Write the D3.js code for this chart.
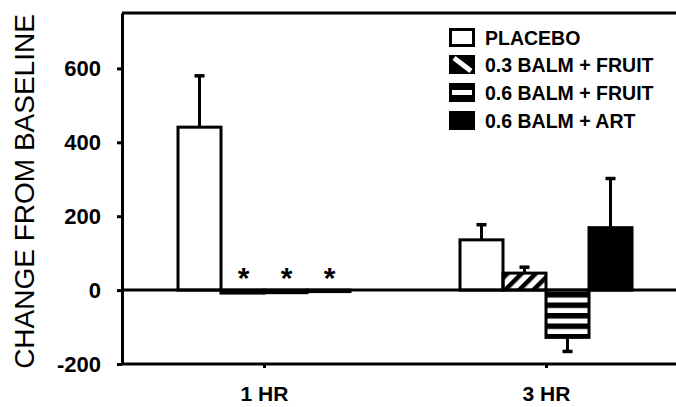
<!DOCTYPE html>
<html><head><meta charset="utf-8">
<script src="https://cdn.jsdelivr.net/npm/d3@7"></script>
<style>html,body{margin:0;padding:0;background:#fff;}svg{display:block;}</style>
</head><body>
<script>
const groups = ["1 HR", "3 HR"];
const series = ["PLACEBO", "0.3 BALM + FRUIT", "0.6 BALM + FRUIT", "0.6 BALM + ART"];
const means1h = [441, -8, -7, -4];
const errs1h  = [139, 0, 0, 0];
const means3h = [136, 46, -128, 169];
const errs3h  = [41, 16, 38, 133];
const sig1h   = [false, true, true, true];
const yTicks  = [-200, 0, 200, 400, 600];

(function(){
const W = 676, H = 407;
const FONT = "Liberation Sans, Arial, sans-serif";
const svg = d3.select("body").append("svg").attr("width", W).attr("height", H);
const defs = svg.append("defs");
defs.append("pattern").attr("id","diag").attr("patternUnits","userSpaceOnUse")
  .attr("width",10).attr("height",10).attr("patternTransform","rotate(45)")
  .append("rect").attr("x",0).attr("y",0).attr("width",4.5).attr("height",10).attr("fill","#000");
const hp = defs.append("pattern").attr("id","horiz").attr("patternUnits","userSpaceOnUse")
  .attr("width",10).attr("height",10.5).attr("y",292);
hp.append("rect").attr("width",10).attr("height",10.5).attr("fill","#fff");
hp.append("rect").attr("y",0).attr("width",10).attr("height",5.5).attr("fill","#000");

const mLeft = 122, mRight = 676, mTop = 13, mBottom = 364;
const y = d3.scaleLinear().domain([-200, 750]).range([mBottom, mTop]);
const x0 = d3.scalePoint().domain(groups).range([264, 546]);
const x1 = d3.scaleBand().domain(series).range([-86, 86]).padding(0);

const fills = ["#fff", "url(#diag)", "url(#horiz)", "#000"];

const data = [];
groups.forEach((g, gi) => {
  const m = gi === 0 ? means1h : means3h;
  const e = gi === 0 ? errs1h : errs3h;
  series.forEach((s, si) => data.push({g, s, si, v: m[si], e: e[si], sig: gi === 0 && sig1h[si]}));
});

svg.append("line").attr("x1", mLeft).attr("x2", mRight).attr("y1", mTop).attr("y2", mTop)
  .attr("stroke","#000").attr("stroke-width",3);

const eb = svg.append("g");
data.filter(d => d.e > 0).forEach(d => {
  const cx = x0(d.g) + x1(d.s) + x1.bandwidth()/2;
  const end = d.v >= 0 ? d.v + d.e : d.v - d.e;
  eb.append("line").attr("x1",cx).attr("x2",cx).attr("y1",y(d.v)).attr("y2",y(end))
    .attr("stroke","#000").attr("stroke-width",3);
  eb.append("line").attr("x1",cx-5).attr("x2",cx+5).attr("y1",y(end)).attr("y2",y(end))
    .attr("stroke","#000").attr("stroke-width",3.5);
});

svg.append("g").selectAll("rect").data(data).join("rect")
  .attr("x", d => x0(d.g) + x1(d.s))
  .attr("width", x1.bandwidth())
  .attr("y", d => y(Math.max(0, d.v)))
  .attr("height", d => Math.abs(y(d.v) - y(0)))
  .attr("fill", d => fills[d.si])
  .attr("stroke", "#000").attr("stroke-width", 3);

svg.append("line").attr("x1", mLeft).attr("x2", mRight).attr("y1", y(0)).attr("y2", y(0))
  .attr("stroke","#000").attr("stroke-width",3);

svg.append("g").selectAll("text").data(data.filter(d => d.sig)).join("text")
  .attr("x", d => x0(d.g) + x1(d.s) + x1.bandwidth()/2 + 1)
  .attr("y", y(0) - 2)
  .attr("text-anchor","middle")
  .attr("font-family",FONT).attr("font-weight","bold")
  .attr("font-size", 30).text("*");

const ya = svg.append("g").attr("transform", `translate(${mLeft},0)`)
  .call(d3.axisLeft(y).tickValues(yTicks).tickFormat(d => String(d))
    .tickSize(5).tickSizeOuter(0).tickPadding(16));
ya.select(".domain").attr("stroke-width",3);
ya.selectAll(".tick line").attr("stroke-width",3);
ya.selectAll("text").attr("font-family",FONT)
  .attr("font-weight","bold").attr("font-size",22).attr("fill","#000");

const xa = svg.append("g").attr("transform", `translate(0,${mBottom})`)
  .call(d3.axisBottom(x0).tickSize(4).tickSizeOuter(0).tickPadding(18));
xa.select(".domain").attr("d", `M${mLeft},0H${mRight}`).attr("stroke-width",3);
xa.selectAll(".tick line").attr("stroke-width",3);
xa.selectAll("text").attr("font-family",FONT)
  .attr("font-weight","bold").attr("font-size",21).attr("fill","#000");

svg.append("text").attr("transform", `translate(34,${(mTop+370)/2}) rotate(-90)`)
  .attr("text-anchor","middle")
  .attr("font-family",FONT).attr("font-size",28)
  .text("CHANGE FROM BASELINE");

const lg = svg.append("g");
const lx = 449, lw = 26, lh = 19;
const ly = [28, 55, 83, 111];
series.forEach((s, i) => {
  const g = lg.append("g").attr("transform", `translate(${lx},${ly[i]})`);
  if (i === 0) {
    g.append("rect").attr("x",1.5).attr("y",1.5).attr("width",lw-3).attr("height",lh-3)
      .attr("fill","#fff").attr("stroke","#000").attr("stroke-width",3);
  } else if (i === 1) {
    g.append("rect").attr("width",lw).attr("height",lh).attr("fill","#000");
    g.append("line").attr("x1",5).attr("y1",3).attr("x2",lw-4).attr("y2",lh-3)
      .attr("stroke","#fff").attr("stroke-width",5);
  } else if (i === 2) {
    g.append("rect").attr("width",lw).attr("height",lh).attr("fill","#000");
    g.append("rect").attr("x",3).attr("y",lh/2-2.5).attr("width",lw-6).attr("height",5).attr("fill","#fff");
  } else {
    g.append("rect").attr("width",lw).attr("height",lh).attr("fill","#000");
  }
  g.append("text").attr("x",36).attr("y",lh/2).attr("dy","0.36em")
    .attr("font-family",FONT).attr("font-weight","bold")
    .attr("font-size",19.5).text(s);
});
})();
</script>
</body></html>
